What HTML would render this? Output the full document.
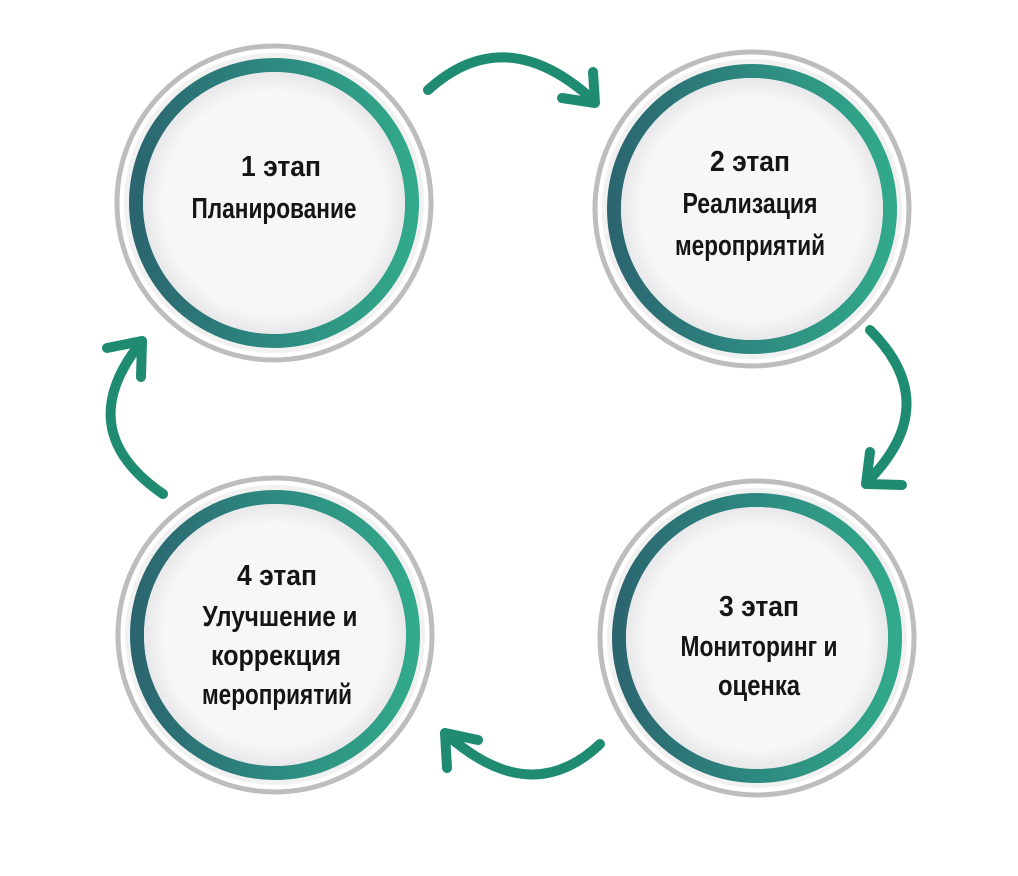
<!DOCTYPE html>
<html><head><meta charset="utf-8"><style>html,body{margin:0;padding:0;background:#fff}svg{display:block}</style></head>
<body>
<svg width="1018" height="876" viewBox="0 0 1018 876" xmlns="http://www.w3.org/2000/svg">
<defs>
<linearGradient id="g" x1="0" y1="0" x2="1" y2="0">
<stop offset="0" stop-color="#2b6670"/><stop offset="0.5" stop-color="#2d8a80"/><stop offset="1" stop-color="#32a98a"/>
</linearGradient>
<radialGradient id="w" cx="0.5" cy="0.5" r="0.5">
<stop offset="0.85" stop-color="#f7f7f8"/><stop offset="1" stop-color="#e8e8ea"/>
</radialGradient>
<g id="c">
<circle r="157" fill="#fff" stroke="#bdbdbd" stroke-width="5"/>
<circle r="150" fill="#f1f1f2"/>
<circle r="138" fill="none" stroke="url(#g)" stroke-width="14"/>
<circle r="131" fill="url(#w)"/>
</g>
</defs>
<use href="#c" x="274" y="203"/>
<use href="#c" x="752" y="209"/>
<use href="#c" x="757" y="638"/>
<use href="#c" x="275" y="635"/>
<g fill="none" stroke="#1f8b70" stroke-width="10" stroke-linecap="round" stroke-linejoin="round">
<path d="M428 90 Q505 20 593 100"/><path d="M593 72 L595 103 L562 98"/>
<path d="M870 330 Q945 405 866 483"/><path d="M870 452 L866 484 L902 485"/>
<path d="M600 744 Q530 810 445 733"/><path d="M447 768 L445 733 L478 740"/>
<path d="M163 494 Q70 430 142 341"/><path d="M107 348 L142 341 L141 377"/>
</g>
<g font-family="'Liberation Sans Narrow','Liberation Sans',sans-serif" font-weight="bold" font-size="29" fill="#151515" text-anchor="middle">
<text x="281" y="176" textLength="80" lengthAdjust="spacingAndGlyphs">1 этап</text>
<text x="274" y="218" textLength="165" lengthAdjust="spacingAndGlyphs">Планирование</text>
<text x="750" y="171" textLength="80" lengthAdjust="spacingAndGlyphs">2 этап</text>
<text x="750" y="213" textLength="135" lengthAdjust="spacingAndGlyphs">Реализация</text>
<text x="750" y="255" textLength="150" lengthAdjust="spacingAndGlyphs">мероприятий</text>
<text x="759" y="616" textLength="80" lengthAdjust="spacingAndGlyphs">3 этап</text>
<text x="759" y="656" textLength="157" lengthAdjust="spacingAndGlyphs">Мониторинг и</text>
<text x="759" y="695" textLength="82" lengthAdjust="spacingAndGlyphs">оценка</text>
<text x="277" y="585" textLength="80" lengthAdjust="spacingAndGlyphs">4 этап</text>
<text x="280" y="626" textLength="155" lengthAdjust="spacingAndGlyphs">Улучшение и</text>
<text x="276" y="665" textLength="130" lengthAdjust="spacingAndGlyphs">коррекция</text>
<text x="277" y="704" textLength="150" lengthAdjust="spacingAndGlyphs">мероприятий</text>
</g>
</svg>
</body></html>
